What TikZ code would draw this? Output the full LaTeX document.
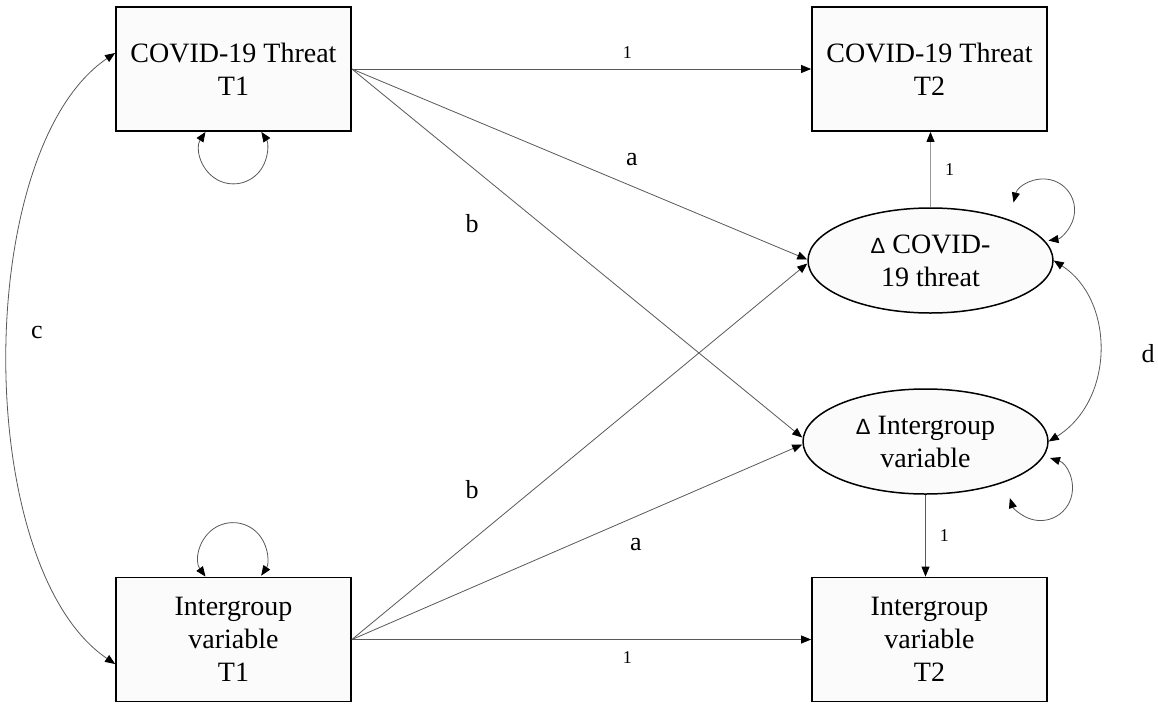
\documentclass[tikz,border=0pt]{standalone}
\usepackage{fontspec}
\setmainfont{Liberation Serif}
\newfontfamily\serf{Liberation Serif}
\newfontfamily\sansfam{Liberation Sans}
\usetikzlibrary{arrows.meta,shapes.geometric,calc}
\tikzset{
  tip/.tip={Triangle[length=10pt,width=8pt,color=black]},
  box/.style={draw=black,line width=1.8pt,fill=gray!3,minimum width=235pt,minimum height=124pt,inner sep=0pt,align=center,font=\serf\fontsize{28}{33}\selectfont},
  lat/.style={draw=black,line width=1.5pt,fill=gray!3,ellipse,minimum width=245pt,minimum height=105pt,inner sep=0pt,align=center,font=\serf\fontsize{28}{33}\selectfont},
  path/.style={draw=black!65,line width=0.8pt,-tip},
  cov/.style={draw=black!65,line width=0.8pt,tip-tip},
  lab/.style={font=\serf\fontsize{26}{30}\selectfont,inner sep=0pt},
  one/.style={font=\serf\fontsize{18}{22}\selectfont,inner sep=0pt},
}
\newcommand{\dlt}{{\sansfam\fontsize{22}{26}\selectfont Δ}}
\begin{document}
\begin{tikzpicture}[x=1pt,y=-1pt]
\useasboundingbox[fill=white] (0,0) rectangle (1158,704);
\node[box] (b1) at (233.5,69) {COVID-19 Threat\\T1};
\node[box] (b2) at (929.5,69) {COVID-19 Threat\\T2};
\node[box] (b3) at (233.5,639.5) {Intergroup\\variable\\T1};
\node[box] (b4) at (929.5,639.5) {Intergroup\\variable\\T2};
\node[lat] (e1) at (930.5,260.5) {\dlt\ COVID-\\19 threat};
\node[lat] (e2) at (925.5,441.5) {\dlt\ Intergroup\\variable};
% paths
\draw[path] (b1.east) -- node[one,above=10pt,pos=0.6]{1} (b2.west);
\draw[path] (b3.east) -- node[one,below=12pt,pos=0.6]{1} (b4.west);
\draw[path] (b1.east) -- ($(e1.west)+(0,-1)$);
\draw[path] (b1.east) -- ($(e2.west)+(0,-4)$);
\draw[path] (b3.east) -- ($(e1.west)+(0,3)$);
\draw[path] (b3.east) -- ($(e2.west)+(0,3)$);
\draw[path,draw=black!40,line width=1pt] (e1.north) -- node[one,right=14pt]{1} (e1.north |- b2.south);
\draw[path] (e2.south) -- node[one,right=14pt]{1} (e2.south |- b4.north);
% labels
\node[lab] (la1) at (632,160) {a};
\node[lab] (lb1) at (472,224) {b};
\node[lab] (lb2) at (472,490) {b};
\node[lab] (la2) at (636,545) {a};
\node[lab] (lc) at (37,332) {c};
\node[lab] (ld) at (1148,354) {d};
% covariances
\draw[cov] ($(b1.west)+(0,-16)$) .. controls (-28,150) and (-28,567) .. ($(b3.west)+(0,24.5)$);
\draw[cov] (e1.east) .. controls (1115,300) and (1115,400) .. (e2.east);
% self loops
\draw[cov] ($(b1.south)+(-28,0)$) arc[start angle=213.5,end angle=-33.5,radius=33.5];
\draw[cov] ($(b3.north)+(-28,0)$) arc[start angle=144,end angle=394,radius=34];
\coordinate (l1) at ($(e1)+(83,-58)$);
\draw[cov] (l1) arc[start angle=194,end angle=441,radius=31];
\coordinate (l2) at ($(e2)+(124.5,16.5)$);
\draw[cov] (l2) arc[start angle=-72.6,end angle=162.6,radius=32];
\end{tikzpicture}
\end{document}
